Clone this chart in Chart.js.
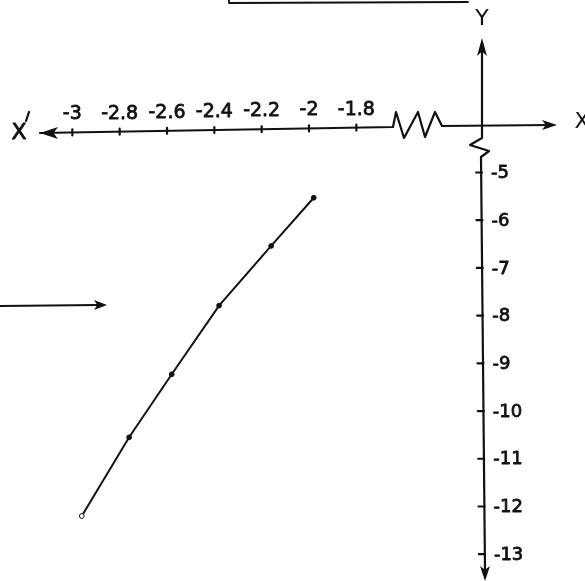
<!DOCTYPE html>
<html>
<head>
<meta charset="utf-8">
<script src="https://cdn.jsdelivr.net/npm/chart.js@4/dist/chart.umd.min.js"></script>
<style>
  html, body { margin: 0; padding: 0; background: #fff; }
  canvas { display: block; }
</style>
</head>
<body>
<canvas id="graph" width="585" height="581"></canvas>
<script>
// tick marks on the two axes
var xTicks = [-3, -2.8, -2.6, -2.4, -2.2, -2, -1.8];
var yTicks = [-5, -6, -7, -8, -9, -10, -11, -12, -13];

// plotted points (x, y)
var xValues = [-2.96, -2.76, -2.58, -2.38, -2.16, -1.98];
var yValues = [-12.2, -10.55, -9.23, -7.79, -6.54, -5.53];

var points = xValues.map(function (x, i) { return { x: x, y: yValues[i] }; });

var INK = '#111';
var FONT = '"DejaVu Sans", sans-serif';

function arrowHead(ctx, x, y, angle, len, half) {
    ctx.save();
    ctx.translate(x, y);
    ctx.rotate(angle);
    ctx.beginPath();
    ctx.moveTo(0, 0);
    ctx.lineTo(-len, -half);
    ctx.lineTo(-len * 0.75, 0);
    ctx.lineTo(-len, half);
    ctx.closePath();
    ctx.fill();
    ctx.restore();
}

// pen-like text: filled and lightly outlined so strokes look inked
function inkText(ctx, text, x, y) {
    ctx.save();
    ctx.lineWidth = 0.8;
    ctx.fillText(text, x, y);
    ctx.strokeText(text, x, y);
    ctx.restore();
}

// axes drawn the way they appear on paper: broken X axis, broken Y axis, arrows
var axesPlugin = {
    id: 'handAxes',
    beforeDatasetsDraw: function (chart) {
        var ctx = chart.ctx;
        var xs = chart.scales.x;
        var ys = chart.scales.y;
        var yAxisX = 482;
        var leftY = 133, rightY = 127;
        var axisLeft = 40, breakStart = 393;
        function axisYAt(px) {
            return leftY + (rightY - leftY) * (px - axisLeft) / (breakStart - axisLeft);
        }

        ctx.save();
        ctx.strokeStyle = INK;
        ctx.fillStyle = INK;
        ctx.lineWidth = 2.2;
        ctx.lineCap = 'round';
        ctx.lineJoin = 'round';

        // X axis, left part with ticks
        ctx.beginPath();
        ctx.moveTo(axisLeft, leftY);
        ctx.lineTo(breakStart, rightY);
        // zigzag break
        ctx.lineTo(396, 112);
        ctx.lineTo(404, 138);
        ctx.lineTo(418, 112);
        ctx.lineTo(425, 137);
        ctx.lineTo(435, 112);
        ctx.lineTo(442, 126);
        ctx.lineTo(552, 125);
        ctx.stroke();
        arrowHead(ctx, axisLeft, leftY, Math.PI, 18, 6);
        arrowHead(ctx, 557, 125, 0, 15, 5);

        ctx.font = '19px ' + FONT;
        ctx.textAlign = 'center';
        ctx.textBaseline = 'middle';
        xTicks.forEach(function (t) {
            var px = xs.getPixelForValue(t);
            var py = axisYAt(px);
            ctx.beginPath();
            ctx.moveTo(px, py - 3);
            ctx.lineTo(px, py + 3);
            ctx.stroke();
            inkText(ctx, String(t), px, py - 18);
        });

        // Y axis upper part and break mark
        ctx.beginPath();
        ctx.moveTo(yAxisX, 50);
        ctx.lineTo(yAxisX, 138);
        ctx.lineTo(470, 145);
        ctx.lineTo(489, 151);
        ctx.lineTo(481, 157);
        ctx.lineTo(485, 570);
        ctx.stroke();
        arrowHead(ctx, yAxisX, 38, -Math.PI / 2, 18, 5);
        arrowHead(ctx, 485, 581, Math.PI / 2, 15, 5);

        ctx.font = '18px ' + FONT;
        ctx.textAlign = 'left';
        yTicks.forEach(function (t) {
            var py = ys.getPixelForValue(t);
            var px = yAxisX + 3 * (py - 157) / (570 - 157);
            ctx.beginPath();
            ctx.moveTo(px - 6, py);
            ctx.lineTo(px, py);
            ctx.stroke();
            inkText(ctx, String(t), px + 9, py + 1);
        });

        // axis names
        ctx.textAlign = 'center';
        ctx.font = '22px ' + FONT;
        ctx.fillText('Y', yAxisX, 19);
        ctx.fillText('X', 582, 122);
        inkText(ctx, 'X', 19, 133);
        ctx.beginPath();
        ctx.moveTo(29, 112);
        ctx.lineTo(26, 121);
        ctx.stroke();

        // frame edge and pointer arrow near the plot
        ctx.lineWidth = 1.8;
        ctx.beginPath();
        ctx.moveTo(229, 0);
        ctx.lineTo(229, 3);
        ctx.lineTo(468, 2);
        ctx.moveTo(0, 306);
        ctx.lineTo(98, 305);
        ctx.stroke();
        arrowHead(ctx, 107, 305, 0, 13, 5);
        ctx.restore();
    }
};

new Chart(document.getElementById('graph'), {
    type: 'scatter',
    data: {
        datasets: [{
            data: points,
            showLine: true,
            borderColor: INK,
            borderWidth: 2,
            tension: 0,
            pointRadius: 2.4,
            pointBackgroundColor: [ '#fff', INK, INK, INK, INK, INK ],
            pointBorderColor: INK,
            pointBorderWidth: 1
        }]
    },
    options: {
        responsive: false,
        animation: false,
        layout: { padding: 0 },
        plugins: {
            legend: { display: false },
            tooltip: { enabled: false }
        },
        scales: {
            x: { type: 'linear', display: false, min: -3.2845, max: -0.855 },
            y: { type: 'linear', display: false, min: -13.457, max: -1.49 }
        }
    },
    plugins: [axesPlugin]
});
</script>
</body>
</html>
